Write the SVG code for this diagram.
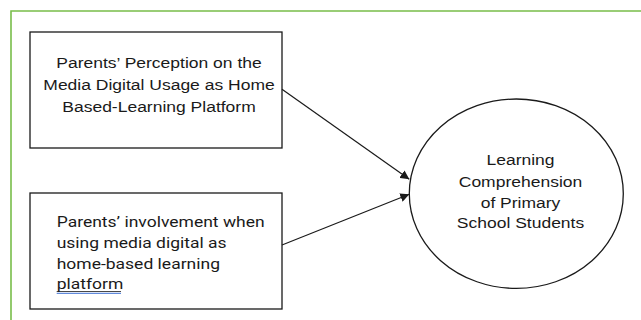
<svg xmlns="http://www.w3.org/2000/svg" width="641" height="320" viewBox="0 0 641 320">
<style>
.frame{fill:none;stroke:#78bd4a;stroke-width:1.6}
.box{fill:#fff;stroke:#1a1a1a;stroke-width:1.3}
.t{font-family:"Liberation Sans",Arial,sans-serif;font-size:15.5px;fill:#1a1a1a}
.r{font-family:Roboto,"Liberation Sans",sans-serif;font-size:15.5px;fill:#1a1a1a}
.c{text-anchor:middle}
.edge{stroke:#1a1a1a;stroke-width:1.2;fill:none}
</style>
<defs>
<marker id="ah" viewBox="0 0 10 10" refX="10" refY="5" markerWidth="9" markerHeight="9" markerUnits="userSpaceOnUse" orient="auto">
<path d="M0,0 L10,5 L0,10 z" fill="#1a1a1a"/>
</marker>
</defs>
<rect width="641" height="320" fill="#fff"/>
<path class="frame" d="M11,320 V11 H641"/>
<g id="node-perception">
<rect class="box" x="30" y="32" width="252" height="116"/>
<g transform="translate(159,0) scale(1.13,1)">
<text class="t c" x="0" y="68.3">Parents’ Perception on the</text>
<text class="t c" x="0" y="90.3">Media Digital Usage as Home</text>
<text class="t c" x="0" y="112">Based-Learning Platform</text>
</g>
</g>
<g id="node-involvement">
<rect class="box" x="30" y="193" width="252" height="116"/>
<g transform="translate(56.7,0) scale(1.13,1)">
<text class="r" x="0" y="226.7">Parents’ involvement when</text>
<text class="r" x="0" y="247.7">using media digital as</text>
<text class="r" x="0" y="269">home-based learning</text>
<text class="r" x="0" y="289.3">platform</text>
</g>
<line x1="56.7" y1="291.5" x2="121" y2="291.5" stroke="#1a1a1a" stroke-width="0.8"/>
<line x1="56.7" y1="293.3" x2="121" y2="293.3" stroke="#3b6fd4" stroke-width="1"/>
</g>
<g id="node-learning">
<ellipse class="box" cx="516.3" cy="193.7" rx="107" ry="94.7"/>
<g transform="translate(520.5,0) scale(1.13,1)">
<text class="t c" x="0" y="165">Learning</text>
<text class="t c" x="0" y="186.7">Comprehension</text>
<text class="t c" x="0" y="208">of Primary</text>
<text class="t c" x="0" y="228.5">School Students</text>
</g>
</g>
<g id="connectors">
<line class="edge" x1="282" y1="89.3" x2="409.3" y2="179.3" marker-end="url(#ah)"/>
<line class="edge" x1="282" y1="245" x2="409.3" y2="194.3" marker-end="url(#ah)"/>
</g>
</svg>
